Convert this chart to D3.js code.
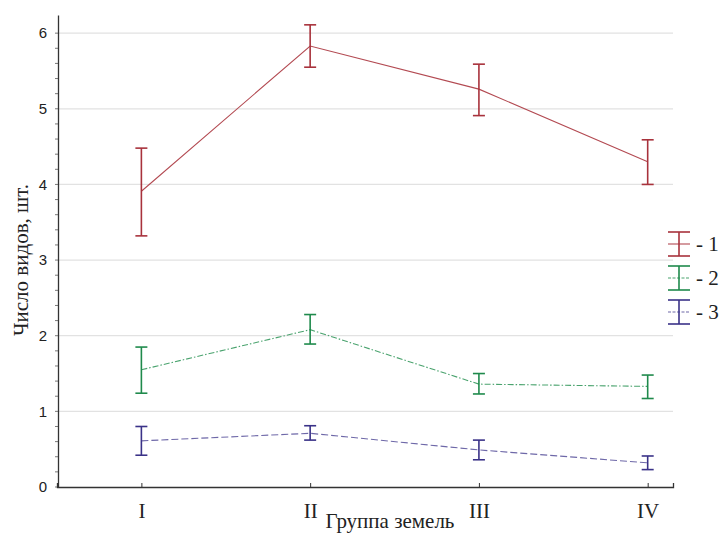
<!DOCTYPE html>
<html><head><meta charset="utf-8">
<script src="https://cdn.jsdelivr.net/npm/d3@7"></script>
<style>body{margin:0;background:#fff} .serif{font-family:"Liberation Serif","DejaVu Serif","Times New Roman",serif}</style>
</head><body>
<script>
const categories = ["I","II","III","IV"];
const seriesNames = ["1","2","3"];
const mean1  = [3.91, 5.83, 5.26, 4.30];
const upper1 = [4.48, 6.11, 5.59, 4.59];
const lower1 = [3.32, 5.55, 4.91, 4.00];
const mean2  = [1.55, 2.08, 1.36, 1.33];
const upper2 = [1.85, 2.28, 1.50, 1.48];
const lower2 = [1.24, 1.89, 1.23, 1.17];
const mean3  = [0.61, 0.71, 0.49, 0.32];
const upper3 = [0.80, 0.81, 0.62, 0.41];
const lower3 = [0.42, 0.62, 0.36, 0.23];
const yTicks = [0,1,2,3,4,5,6];

const W=725,H=535;
const svg=d3.select("body").append("svg").attr("width",W).attr("height",H);
const x=d3.scaleLinear().domain([0.5,4.15]).range([57,673]);
const y=d3.scaleLinear().domain([0,6.24]).range([487,15]);

const series=[
 {name:seriesNames[0],m:mean1,u:upper1,l:lower1,bar:"#a8323c",line:"#b34a52",dash:null},
 {name:seriesNames[1],m:mean2,u:upper2,l:lower2,bar:"#1f8a4c",line:"#4aa36e",dash:"6,2,1.5,2"},
 {name:seriesNames[2],m:mean3,u:upper3,l:lower3,bar:"#3a3288",line:"#6e68a8",dash:"7,3"}
];

// gridlines
svg.append("g").selectAll("line").data(yTicks.filter(d=>d>0)).join("line")
 .attr("x1",58).attr("x2",673).attr("y1",d=>y(d)).attr("y2",d=>y(d))
 .attr("stroke","#e2e2e2").attr("stroke-width",1.2);

// y axis
const ya=svg.append("g").attr("transform","translate(58,0)")
 .call(d3.axisLeft(y).tickValues(yTicks).tickSize(0).tickPadding(11).tickFormat(d3.format("d")));
ya.select(".domain").attr("stroke","#333").attr("stroke-width",1.3);
ya.selectAll("text").attr("font-family","Liberation Sans, Arial, sans-serif").attr("font-size",15).attr("fill","#222");
// minor ticks
svg.append("g").selectAll("line").data(d3.range(0,31).map(i=>i*0.2)).join("line")
 .attr("x1",55).attr("x2",58).attr("y1",d=>y(d)).attr("y2",d=>y(d))
 .attr("stroke","#555").attr("stroke-width",0.8);

// x axis
const xa=svg.append("g").attr("transform","translate(0,487)")
 .call(d3.axisBottom(x).tickValues([1,2,3,4]).tickSize(-4).tickPadding(16).tickFormat((d,i)=>categories[i]));
xa.select(".domain").attr("stroke","#333").attr("stroke-width",1.3);
xa.selectAll(".tick line").attr("stroke","#333");
xa.selectAll("text").attr("class","serif").attr("font-family",null).attr("font-size",21).attr("fill","#222");

// titles
svg.append("text").attr("class","serif").attr("x",390).attr("y",528).attr("text-anchor","middle")
 .attr("font-size",21).attr("fill","#222").text("Группа земель");
svg.append("text").attr("class","serif").attr("transform","translate(28,260) rotate(-90)").attr("text-anchor","middle")
 .attr("font-size",21).attr("fill","#222").text("Число видов, шт.");

const line=d3.line().x((d,i)=>x(i+1)).y(d=>y(d));
series.forEach(s=>{
 svg.append("path").attr("d",line(s.m)).attr("fill","none").attr("stroke",s.line)
  .attr("stroke-width",1.1).attr("stroke-dasharray",s.dash);
 const g=svg.append("g").attr("stroke",s.bar).attr("stroke-width",1.6);
 s.m.forEach((v,i)=>{
  const cx=x(i+1);
  g.append("line").attr("x1",cx).attr("x2",cx).attr("y1",y(s.u[i])).attr("y2",y(s.l[i]));
  g.append("line").attr("x1",cx-6).attr("x2",cx+6).attr("y1",y(s.u[i])).attr("y2",y(s.u[i]));
  g.append("line").attr("x1",cx-6).attr("x2",cx+6).attr("y1",y(s.l[i])).attr("y2",y(s.l[i]));
 });
});

// legend
const legY=[244,278,312];
series.forEach((s,k)=>{
 const cy=legY[k], lx=668, rx=690, mx=(lx+rx)/2;
 const g=svg.append("g");
 g.append("line").attr("x1",lx).attr("x2",rx).attr("y1",cy).attr("y2",cy).attr("stroke",s.line).attr("stroke-width",1.1).attr("stroke-dasharray",s.dash?"3,1.5":null);
 const b=g.append("g").attr("stroke",s.bar).attr("stroke-width",1.6);
 b.append("line").attr("x1",mx).attr("x2",mx).attr("y1",cy-12).attr("y2",cy+12);
 b.append("line").attr("x1",lx).attr("x2",rx).attr("y1",cy-12).attr("y2",cy-12);
 b.append("line").attr("x1",lx).attr("x2",rx).attr("y1",cy+12).attr("y2",cy+12);
 g.append("text").attr("class","serif").attr("x",696).attr("y",cy+7)
  .attr("font-size",21).attr("fill","#222").text("- "+s.name);
});
</script>
</body></html>
